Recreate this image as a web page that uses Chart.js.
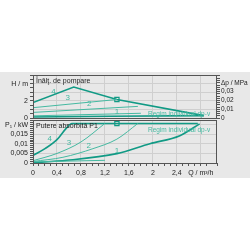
<!DOCTYPE html>
<html>
<head>
<meta charset="utf-8">
<script src="https://cdn.jsdelivr.net/npm/chart.js@4"></script>
<style>
  body { margin: 0; background: #fff; width: 250px; height: 250px; position: relative; overflow: hidden; }
  #bg { position: absolute; left: 0; top: 72px; width: 250px; height: 106px; background: #e8e8e8; }
  .box { position: absolute; left: 0; width: 250px; }
  #topBox { top: 66px; height: 60px; }
  #botBox { top: 112px; height: 70px; }
</style>
</head>
<body>
<div id="bg"></div>
<div class="box" id="topBox"><canvas id="topChart" width="250" height="60"></canvas></div>
<div class="box" id="botBox"><canvas id="botChart" width="250" height="70"></canvas></div>
<script>
// --- dati (Q in m3/h) ---
// pannello superiore: prevalenza H [m]
const q4H = [0, 0.68, 1.4, 2.85];
const h4 = [1.8, 3.6, 2.15, 0.28];
const q3H = [0, 1.4];
const h3 = [1.2, 2.15];
const q2H = [0, 1.75];
const h2 = [0.65, 1.35];
const q1H = [0, 1.8];
const h1 = [0.25, 0.55];
const qDpvH = [0, 1.3, 2.85];
const hDpv = [0.12, 0.2, 0.28];

// pannello inferiore: potenza assorbita P1 [kW]
const q4P = [0, 0.2, 0.4, 0.55, 0.65, 1.4, 2.75];
const p4 = [0.004, 0.0075, 0.0122, 0.018, 0.0207, 0.0207, 0.0207];
const q3P = [0, 0.4, 0.8, 1.2];
const p3 = [0.0012, 0.005, 0.011, 0.0207];
const q2P = [0, 0.5, 1.0, 1.4, 1.75];
const p2 = [0.0008, 0.003, 0.0075, 0.0125, 0.0207];
const q1P = [0, 1.2];
const p1 = [0.0006, 0.0014];
const qDpvP = [0, 0.56, 1.4, 1.95, 2.45, 2.78];
const pDpv = [0.0002, 0.0014, 0.0049, 0.0101, 0.0143, 0.0205];

// punto di lavoro (quadratino)
const qWork = [1.4];
const hWork = [2.15];
const pWork = [0.0207];

// etichette delle curve
const curveNames = ['4', '3', '2', '1'];
const labQH = [0.34, 0.58, 0.94, 1.4];
const labH = [3.1, 2.33, 1.6, 0.7];
const labQP = [0.28, 0.6, 0.93, 1.4];
const labP = [0.0128, 0.0108, 0.0088, 0.0066];

const xMax = 3.07;
const dark = '#119a85';
const light = '#45b9a1';
const axisCol = '#555';
const gridCol = '#cfcfcf';
const font = { family: 'Liberation Sans', size: 7 };
const fontSmall = { family: 'Liberation Sans', size: 6.5 };

const pts = (xs, ys) => xs.map((x, i) => ({ x: x, y: ys[i] }));
const comma = v => String(v).replace('.', ',');

function serie(xs, ys, col, w, smooth) {
    return {
        data: pts(xs, ys), showLine: true, borderColor: col, borderWidth: w,
        pointRadius: 0, tension: smooth ? 0.4 : 0, cubicInterpolationMode: smooth ? 'monotone' : 'default'
    };
}
function marker(xs, ys) {
    return {
        data: pts(xs, ys), showLine: false, pointStyle: 'rect', pointRadius: 3,
        borderColor: dark, borderWidth: 1.2, backgroundColor: 'rgba(0,0,0,0)'
    };
}
// niente spazio extra per le etichette estreme
function noPad(w) {
    return s => {
        if (w !== undefined) s.width = w;
        s.paddingTop = 0; s.paddingBottom = 0;
    };
}

// cornice + testi
function testiPlugin(title, dpvDy, labX, labY) {
    return {
        id: 'testi',
        afterDraw(chart) {
            const c = chart.ctx, a = chart.chartArea;
            const sx = chart.scales.x, sy = chart.scales.y;
            c.save();
            c.strokeStyle = axisCol;
            c.lineWidth = 1;
            c.strokeRect(a.left + 0.5, a.top + 0.5, a.right - a.left - 1, a.bottom - a.top);
            c.font = '7px "Liberation Sans"';
            c.fillStyle = '#222';
            c.textBaseline = 'middle';
            c.fillText(title, a.left + 3, a.top + 6);
            c.fillStyle = light;
            c.font = '6.5px "Liberation Sans"';
            c.fillText('Regim individual dp-v', a.left + 115, a.top + dpvDy);
            c.font = '8px "Liberation Sans"';
            c.textAlign = 'center';
            curveNames.forEach((n, i) => {
                c.fillText(n, sx.getPixelForValue(labX[i]), sy.getPixelForValue(labY[i]));
            });
            c.restore();
        }
    };
}

const xGridColor = ctx => ctx.tick && Math.round(ctx.tick.value * 10) % 4 === 0 ? gridCol : 'rgba(0,0,0,0)';

// --- pannello superiore ---
new Chart(document.getElementById('topChart'), {
    type: 'scatter',
    data: {
        datasets: [
            serie(qDpvH, hDpv, dark, 1.6, false),
            serie(q1H, h1, light, 1, false),
            serie(q2H, h2, light, 1, false),
            serie(q3H, h3, light, 1, false),
            serie(q4H, h4, dark, 1.6, false),
            marker(qWork, hWork)
        ]
    },
    options: {
        responsive: false, animation: false,
        layout: { padding: { top: 9, right: 0, left: 0, bottom: 0 } },
        plugins: { legend: { display: false }, tooltip: { enabled: false } },
        scales: {
            x: {
                type: 'linear', min: 0, max: xMax,
                ticks: { display: false, stepSize: 0.1 },
                grid: { color: xGridColor, drawTicks: false },
                border: { display: false },
                afterFit: s => { s.height = 8; s.paddingLeft = 0; s.paddingRight = 0; }
            },
            y: {
                position: 'left', min: 0, max: 5,
                ticks: {
                    stepSize: 0.5, autoSkip: false, color: '#222', font: font, padding: 2,
                    callback: v => v === 0 ? '0' : v === 2 ? '2' : v === 4 ? 'H / m' : ''
                },
                grid: {
                    color: ctx => ctx.tick && Number.isInteger(ctx.tick.value) && ctx.tick.value > 0 ? gridCol : 'rgba(0,0,0,0)',
                    tickColor: axisCol, tickLength: 3
                },
                border: { display: false },
                afterFit: noPad(33)
            },
            dp: {
                position: 'right', min: 0, max: 0.049,
                ticks: {
                    stepSize: 0.0025, autoSkip: false, color: '#222', font: fontSmall, padding: 1,
                    callback: v => {
                        const k = Math.round(v * 10000);
                        if (k === 0) return '0';
                        if (k === 400) return 'Δp / MPa';
                        return k % 100 === 0 ? comma(k / 10000) : '';
                    }
                },
                grid: { drawOnChartArea: false, tickColor: axisCol, tickLength: 3 },
                border: { display: false },
                afterFit: noPad(33)
            }
        }
    },
    plugins: [testiPlugin('Înălţ. de pompare', 39, labQH, labH)]
});

// --- pannello inferiore ---
new Chart(document.getElementById('botChart'), {
    type: 'scatter',
    data: {
        datasets: [
            serie(q1P, p1, light, 1, true),
            serie(qDpvP, pDpv, dark, 1.6, true),
            serie(q2P, p2, light, 1, true),
            serie(q3P, p3, light, 1, true),
            serie(q4P, p4, dark, 1.6, true),
            marker(qWork, pWork)
        ]
    },
    options: {
        responsive: false, animation: false,
        layout: { padding: { top: 8, right: 33, left: 0, bottom: 0 } },
        plugins: { legend: { display: false }, tooltip: { enabled: false } },
        scales: {
            x: {
                type: 'linear', min: 0, max: xMax,
                ticks: {
                    stepSize: 0.1, autoSkip: false, maxRotation: 0, color: '#222', font: font, padding: 3,
                    callback: v => {
                        const k = Math.round(v * 10);
                        if (k === 28) return 'Q / m³/h';
                        return (k % 4 === 0 && k <= 24) ? comma(k / 10) : '';
                    }
                },
                grid: { color: xGridColor, tickColor: axisCol, tickLength: 3 },
                border: { display: false },
                afterFit: s => { s.height = 19; s.paddingLeft = 0; s.paddingRight = 0; }
            },
            y: {
                position: 'left', min: 0, max: 0.0225,
                ticks: {
                    stepSize: 0.001, autoSkip: false, color: '#222', font: font, padding: 2,
                    callback: v => {
                        const k = Math.round(v * 1000);
                        if (k === 0) return '0';
                        if (k === 20) return 'P₁ / kW';
                        return k % 5 === 0 ? comma(k / 1000) : '';
                    }
                },
                grid: {
                    color: ctx => ctx.tick && Math.round(ctx.tick.value * 1000) % 5 === 0 && ctx.tick.value > 0 ? gridCol : 'rgba(0,0,0,0)',
                    tickColor: axisCol, tickLength: 3
                },
                border: { display: false },
                afterFit: noPad(33)
            }
        }
    },
    plugins: [testiPlugin('Putere absorbită P1', 10, labQP, labP)]
});
</script>
</body>
</html>
